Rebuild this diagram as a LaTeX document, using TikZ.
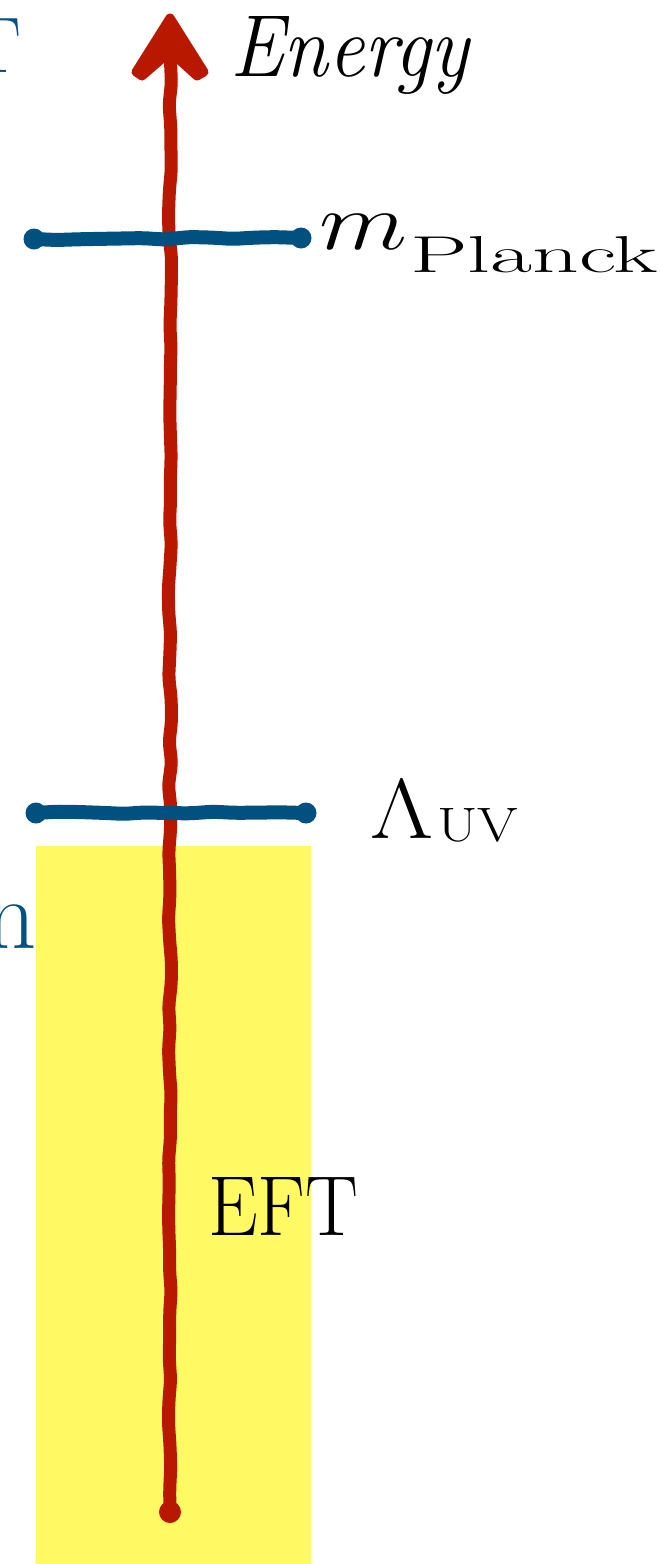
\RequirePackage{fix-cm}
\documentclass[tikz,border=0pt]{standalone}
\usepackage{graphicx}
\usetikzlibrary{decorations.pathmorphing}
\definecolor{axisred}{RGB}{184,24,0}
\definecolor{scaleblue}{RGB}{0,80,128}
\definecolor{eftyellow}{RGB}{255,249,100}
\tikzset{
  wobbly/.style={decorate,decoration={random steps,segment length=22pt,amplitude=1.6pt},rounded corners=6pt},
  axisline/.style={draw=axisred,line width=13pt,line cap=round,line join=round},
  scaleline/.style={draw=scaleblue,line width=14pt,line cap=round,line join=round},
  lbl/.style={inner sep=0pt,font=\fontsize{82}{96}\selectfont},
  bluelbl/.style={lbl,text=scaleblue}
}
\begin{document}
\begin{tikzpicture}[x=1pt,y=-1pt]
\pgfmathsetseed{7}
\useasboundingbox (0,0) rectangle (660,1564);
% EFT region
\fill[eftyellow] (36,846) rectangle (311,1564);
% energy axis
\coordinate (bot) at (170,1512);
\coordinate (top) at (170,52);
\draw[axisline,wobbly] (bot) -- (top);
\fill[axisred] (bot) circle (11pt);
\filldraw[axisred,line width=9pt,line join=round]
  (170,18) -- (204,72) -- (197,76) -- (176,57) -- (164,57) -- (142,76) -- (136,72) -- cycle;
% scale lines
\coordinate (p1) at (34,239);
\coordinate (p2) at (301,238);
\coordinate (u1) at (36,813);
\coordinate (u2) at (306,813);
\draw[scaleline,wobbly] (p1) -- (p2);
\draw[scaleline,wobbly] (u1) -- (u2);
\foreach \c in {p1,p2,u1,u2} \fill[scaleblue] (\c) circle (10.5pt);
% labels
\node[lbl,anchor=base west] (energy) at (230,76) {\resizebox{241pt}{60pt}{\textit{Energy}}};
\node[lbl,anchor=base west] (mlab) at (319,249) {\resizebox{88pt}{35pt}{$m$}};
\node[lbl,anchor=base west] (planck) at (410,272) {\resizebox{248pt}{36pt}{Planck}};
\node[lbl,anchor=base west] (lam) at (370,838) {\resizebox{63pt}{58pt}{$\Lambda$}};
\node[lbl,anchor=base west] (uv) at (437,841) {\resizebox{81pt}{33pt}{UV}};
\node[lbl,anchor=base west] (eft) at (208,1235) {\resizebox{150pt}{58pt}{EFT}};
\node[bluelbl,anchor=base east,font=\fontsize{79}{90}\selectfont] (tcut) at (21,72) {T};
\node[bluelbl,anchor=base east,font=\fontsize{100}{110}\selectfont] (ncut) at (37,948) {n};
\end{tikzpicture}
\end{document}
